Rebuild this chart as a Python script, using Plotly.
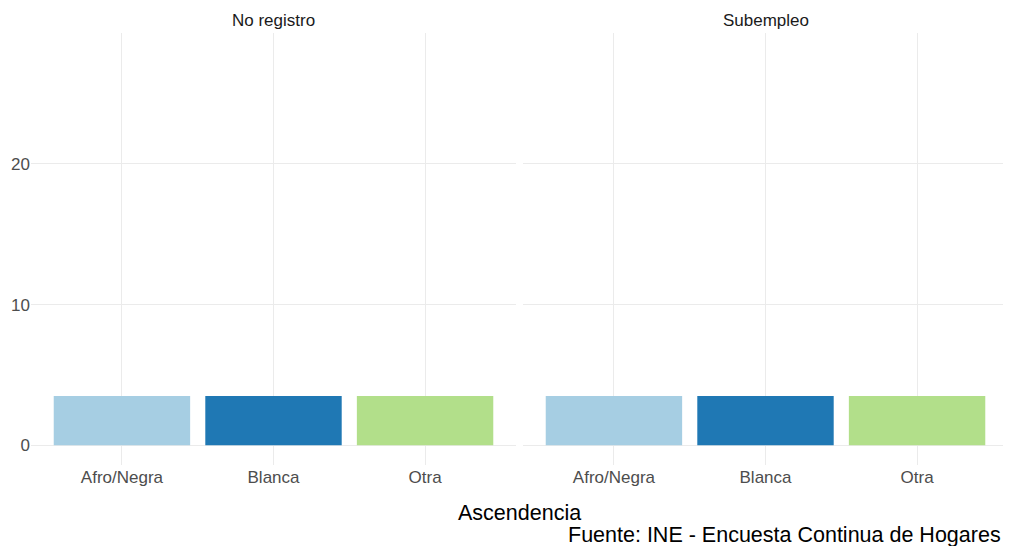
import plotly.graph_objects as go
from plotly.subplots import make_subplots

# Data
categories = ["Afro/Negra", "Blanca", "Otra"]
panels = ["No registro", "Subempleo"]
values_no_registro = [3.5, 3.5, 3.5]
values_subempleo = [3.5, 3.5, 3.5]
bar_colors = ["#A6CEE3", "#1F78B4", "#B2DF8A"]
y_ticks = [0, 10, 20]

W, H = 1011, 546
OFF = 8  # page body margin shifts the figure by 8px
FONT = "Liberation Sans, Arial, sans-serif"


def px(x):
    return (x - OFF) / W


def py(y):
    return 1 - (y - OFF) / H


fig = make_subplots(rows=1, cols=2, shared_yaxes=True)

for col, vals in enumerate([values_no_registro, values_subempleo], start=1):
    fig.add_trace(go.Bar(x=categories, y=vals, marker=dict(color=bar_colors, line=dict(width=0)),
                         width=0.9, showlegend=False, hoverinfo="x+y"), row=1, col=col)

# panel positions in reference pixels
x_doms = [(px(31), px(516)), (px(523), px(1008))]
y_dom = (py(465), py(33))

for i, dom in enumerate(x_doms, start=1):
    xname = "xaxis" if i == 1 else f"xaxis{i}"
    yname = "yaxis" if i == 1 else f"yaxis{i}"
    fig.layout[xname].update(domain=list(dom), range=[-0.6, 2.6], showgrid=True, gridcolor="#EBEBEB",
                             gridwidth=1.4, zeroline=False, showline=False, ticks="",
                             tickfont=dict(family=FONT, size=17, color="#4D4D4D"),
                             fixedrange=True)
    fig.layout[yname].update(domain=list(y_dom), range=[-1.4, 29.3], tickvals=y_ticks,
                             showgrid=True, gridcolor="#EBEBEB", gridwidth=1.4, zeroline=False,
                             showline=False, ticks="", showticklabels=(i == 1),
                             tickfont=dict(family=FONT, size=17, color="#4D4D4D"),
                             fixedrange=True)

# strip titles
for dom, name in zip(x_doms, panels):
    fig.add_annotation(text=name, x=(dom[0] + dom[1]) / 2, y=py(20), xref="paper", yref="paper",
                       showarrow=False, font=dict(family=FONT, size=17, color="#1A1A1A"),
                       xanchor="center", yanchor="middle")

fig.add_annotation(text="Ascendencia", x=px((31 + 1008) / 2), y=py(513), xref="paper", yref="paper",
                   showarrow=False, font=dict(family=FONT, size=21.5, color="black"),
                   xanchor="center", yanchor="middle")
fig.add_annotation(text="Fuente: INE - Encuesta Continua de Hogares", x=px(1003), y=py(535),
                   xref="paper", yref="paper", showarrow=False,
                   font=dict(family=FONT, size=21.5, color="black"), xanchor="right", yanchor="middle")

fig.update_layout(width=W, height=H, margin=dict(l=0, r=0, t=0, b=0),
                  plot_bgcolor="white", paper_bgcolor="white", bargap=0.1,
                  font=dict(family=FONT))

fig.write_html("out.html")
